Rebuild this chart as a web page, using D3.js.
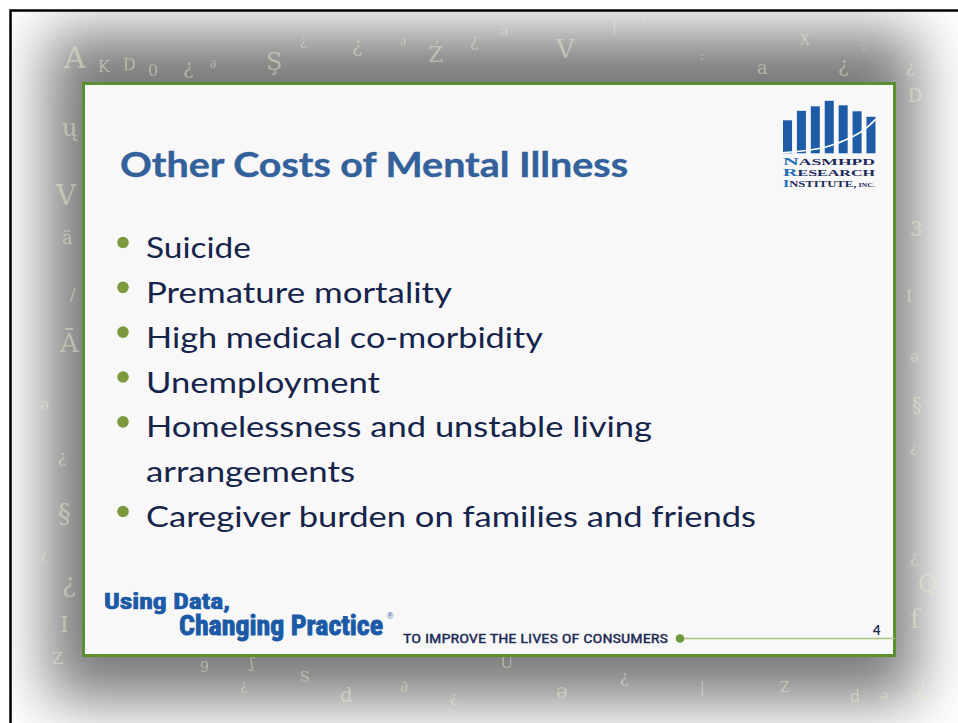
<!DOCTYPE html>
<html>
<head>
<meta charset="utf-8">
<script src="https://cdn.jsdelivr.net/npm/d3@7"></script>
<style>
  html, body { margin: 0; padding: 0; background: #ffffff; }
  svg { display: block; }
</style>
</head>
<body>
<div id="chart"></div>
<script>
// ---------------- DATA ----------------
const slideTitle = "Other Costs of Mental Illness";
const bulletLines = [
  "Suicide",
  "Premature mortality",
  "High medical co-morbidity",
  "Unemployment",
  "Homelessness and unstable living",
  "arrangements",
  "Caregiver burden on families and friends"
];
const bulletFlags = [true, true, true, true, true, false, true];
const footerWords = ["Using Data,", "Changing Practice"];
const footerTagline = "TO IMPROVE THE LIVES OF CONSUMERS";
const pageNumber = "4";
const logoBarValues = [33, 42.5, 47, 52.5, 48, 42, 36.5];
const logoWords = [["N", "ASMHPD"], ["R", "ESEARCH"], ["I", "NSTITUTE,", " INC."]];

// ---------------- LAYOUT ----------------
const W = 958, H = 723;
const lineRight = [251, 452, 543, 380, 652, 355, 756];

const svg = d3.select("#chart").append("svg")
  .attr("width", W).attr("height", H)
  .attr("viewBox", `0 0 ${W} ${H}`);

const defs = svg.append("defs");
const f = defs.append("filter").attr("id", "vblur")
  .attr("x", "-30%").attr("y", "-30%").attr("width", "160%").attr("height", "160%");
f.append("feGaussianBlur").attr("stdDeviation", 30);
defs.append("clipPath").attr("id", "frameClip")
  .append("rect").attr("x", 11).attr("y", 11).attr("width", W).attr("height", H);

// background vignette
svg.append("rect").attr("width", W).attr("height", H).attr("fill", "#ffffff");
const frame = svg.append("g").attr("clip-path", "url(#frameClip)");
frame.append("rect")
  .attr("x", 48).attr("y", 33).attr("width", 868).attr("height", 667)
  .attr("fill", "#787878").attr("filter", "url(#vblur)");

// decorative glyphs
const decor = [
  ["A",64,68,30],["K",98,72,16],["D",123,70,16],["0",148,76,16],["¿",183,74,20],["∂",210,68,12],
  ["Ş",266,70,24],["¿",300,45,12],["¿",352,52,20],["∂",400,46,12],["Ź",428,62,22],["¿",470,46,16],
  ["ə",500,36,14],["V",556,58,26],["|",612,30,14],["7",640,22,14],[":",700,60,12],["a",757,74,18],
  ["X",800,45,14],["¿",838,72,20],[":",862,50,12],
  ["ų",62,136,24],["V",56,205,28],["ä",62,244,18],["/",70,300,16],["Ā",60,352,26],["ə",40,410,16],
  ["¿",58,462,16],["§",58,522,26],["¿",62,592,26],["I",60,632,22],["Z",52,664,16],["¿",40,560,14],
  ["¿",906,72,16],["D",908,102,18],["3",910,236,20],["I",906,302,16],["ə",910,362,16],["§",912,412,20],
  ["¿",910,452,14],["¿",910,562,16],["Q",918,592,24],["f",910,628,26],["¿",916,694,22],
  ["9",200,672,14],["ʃ",250,668,14],["S",300,682,14],["d",340,702,20],["∂",400,692,16],["¿",450,702,14],
  ["ə",556,698,20],["¿",620,682,16],["|",700,692,14],["Z",780,692,14],["d",850,702,16],["ə",880,700,14],
  ["U",500,668,16],["¿",240,690,14]
];
frame.append("g").selectAll("text").data(decor).join("text")
  .attr("x", d => d[1]).attr("y", d => d[2])
  .attr("font-family", "DejaVu Serif, serif")
  .attr("font-size", d => d[3])
  .attr("fill", "#e6f2cc").attr("opacity", 0.45)
  .text(d => d[0]);

// outer black border
svg.append("path").attr("d", `M${W + 2},10.5 H10.5 V${H + 2}`)
  .attr("fill", "none").attr("stroke", "#000").attr("stroke-width", 2.5);

// panel
svg.append("rect")
  .attr("x", 83.5).attr("y", 83.5).attr("width", 811).attr("height", 572)
  .attr("fill", "#f8f8f8").attr("stroke", "#5d8e30").attr("stroke-width", 3);

// title
svg.append("text")
  .attr("x", 120).attr("y", 177)
  .attr("font-family", "Lato, 'Open Sans', sans-serif").attr("font-weight", 700)
  .attr("font-size", 35).attr("fill", "#33619b")
  .attr("stroke", "#33619b").attr("stroke-width", 0.4)
  .attr("textLength", 508).attr("lengthAdjust", "spacingAndGlyphs")
  .text(slideTitle);

// bullets
const yLine = d3.scaleLinear().domain([0, bulletLines.length - 1]).range([258, 527]);
const bodyG = svg.append("g");
bodyG.selectAll("text").data(bulletLines).join("text")
  .attr("x", 146).attr("y", (d, i) => yLine(i))
  .attr("font-family", "Lato, 'Open Sans', sans-serif").attr("font-weight", 400)
  .attr("font-size", 29.5).attr("fill", "#15244b")
  .attr("textLength", (d, i) => lineRight[i] - 146).attr("lengthAdjust", "spacingAndGlyphs")
  .text(d => d);
bodyG.selectAll("circle").data(bulletLines.map((d, i) => ({d, i})).filter(o => bulletFlags[o.i])).join("circle")
  .attr("cx", 123).attr("cy", o => yLine(o.i) - 15.5).attr("r", 5.8)
  .attr("fill", "#7b9a3e");

// logo bars
const xLogo = d3.scaleBand().domain(d3.range(logoBarValues.length)).range([783, 875.5]).paddingInner(0.35).paddingOuter(0);
const yLogo = d3.scaleLinear().domain([0, 55]).range([153.3, 98.3]);
const logo = svg.append("g");
logo.selectAll("rect").data(logoBarValues).join("rect")
  .attr("x", (d, i) => xLogo(i)).attr("width", xLogo.bandwidth())
  .attr("y", d => yLogo(d)).attr("height", d => yLogo(0) - yLogo(d))
  .attr("fill", "#1f5ca8");
const curvePts = [[781, 152.8], [806.7, 150.8], [830, 146.7], [853.3, 137], [866, 129], [876, 119]];
logo.append("path").attr("d", d3.line().curve(d3.curveBasis)(curvePts))
  .attr("fill", "none").attr("stroke", "#ffffff").attr("stroke-width", 1.6);
const logoBase = [164.5, 175.8, 187];
logoWords.forEach((w, i) => {
  const t = logo.append("text")
    .attr("x", 783).attr("y", logoBase[i])
    .attr("font-family", "'Liberation Serif', 'DejaVu Serif', serif").attr("font-weight", 700)
    .attr("textLength", 92).attr("lengthAdjust", "spacingAndGlyphs");
  t.append("tspan").attr("font-size", 11).attr("fill", "#2270b8").text(w[0]);
  t.append("tspan").attr("font-size", 8.8).attr("fill", "#1b2a5a").text(w[1]);
  if (w[2]) t.append("tspan").attr("font-size", 5.5).attr("fill", "#1b2a5a").text(w[2]);
});

// footer
const footFont = "'Liberation Sans Narrow', 'Roboto Condensed', Roboto, 'Liberation Sans', sans-serif";
svg.append("text").attr("x", 104).attr("y", 609)
  .attr("font-family", footFont).attr("font-weight", 700).attr("font-size", 22.5)
  .attr("fill", "#1b5aa6").attr("stroke", "#1b5aa6").attr("stroke-width", 0.7)
  .attr("textLength", 126).attr("lengthAdjust", "spacingAndGlyphs")
  .text(footerWords[0]);
svg.append("text").attr("x", 179).attr("y", 635)
  .attr("font-family", footFont).attr("font-weight", 700).attr("font-size", 27)
  .attr("fill", "#1b5aa6").attr("stroke", "#1b5aa6").attr("stroke-width", 0.9)
  .attr("textLength", 204).attr("lengthAdjust", "spacingAndGlyphs")
  .text(footerWords[1]);
svg.append("text").attr("x", 387).attr("y", 619)
  .attr("font-family", "'Liberation Sans', sans-serif").attr("font-size", 8.5)
  .attr("fill", "#1b5aa6").text("®");
svg.append("text").attr("x", 403).attr("y", 643)
  .attr("font-family", footFont).attr("font-weight", 400).attr("font-size", 13.5)
  .attr("fill", "#1d2c55").attr("stroke", "#1d2c55").attr("stroke-width", 0.35)
  .attr("textLength", 265).attr("lengthAdjust", "spacingAndGlyphs")
  .text(footerTagline);
svg.append("line").attr("x1", 680).attr("x2", 895).attr("y1", 638.5).attr("y2", 638.5)
  .attr("stroke", "#a9c47c").attr("stroke-width", 1.5);
svg.append("circle").attr("cx", 680).attr("cy", 638.5).attr("r", 4.3).attr("fill", "#6e9a3c");
svg.append("text").attr("x", 873).attr("y", 634.5)
  .attr("font-family", "Lato, 'Open Sans', sans-serif").attr("font-weight", 700).attr("font-size", 13)
  .attr("fill", "#1d2c55").text(pageNumber);
</script>
</body>
</html>
